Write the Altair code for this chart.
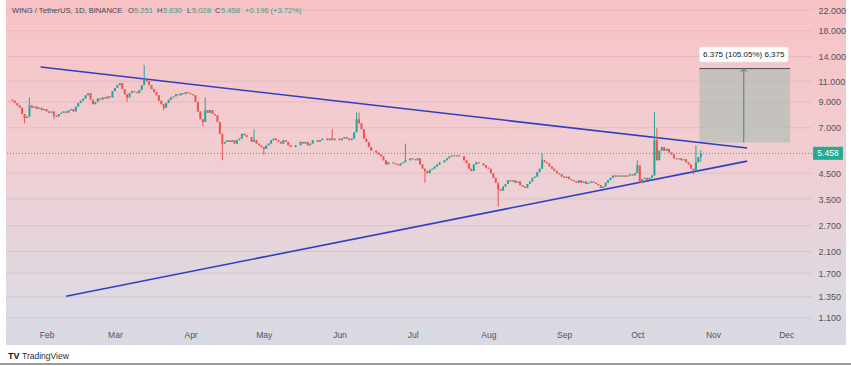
import altair as alt
import pandas as pd

# ---------------- data ----------------
start_date = "2023-01-18"
first_open = 9.2
closes = [
    9.1, 8.9, 8.7, 8.5, 8.0, 7.7, 7.8, 8.7, 8.5, 8.6, 8.4, 8.5, 8.3, 8.4, 8.2, 8.1, 8.2, 7.9, 7.8, 8.0,
    8.1, 8.2, 8.1, 8.3, 8.4, 8.2, 8.6, 8.9, 9.1, 9.3, 9.6, 9.8, 9.2, 8.8, 9.0, 9.3, 9.2, 9.4, 9.3, 9.5, 9.4,
    10.0, 10.3, 10.6, 10.8, 10.2, 9.7, 9.4, 9.8, 10.0, 9.9, 9.8, 10.1, 10.6, 11.2, 11.0, 10.6, 10.2, 9.9, 9.6, 9.1, 8.8, 8.5,
    8.9, 9.2, 9.4, 9.5, 9.7, 9.6, 9.8, 9.7, 9.9, 9.8, 9.7, 9.6, 9.0, 8.2, 7.6, 7.4, 8.3, 8.1, 8.3, 8.0, 7.9, 7.4, 6.6, 6.0,
    6.1, 6.2, 6.1, 6.2, 6.0, 6.2, 6.3, 6.6, 6.5, 6.4, 6.4, 6.1, 6.2, 6.0, 5.9, 5.8, 5.7, 5.9, 6.0, 6.2, 6.3, 6.2, 6.1,
    6.0, 6.2, 6.1, 5.9, 5.8, 5.8, 5.9, 5.9, 6.1, 6.0, 6.1, 5.9, 6.0, 6.2, 6.2, 6.1, 6.2, 6.3, 6.3, 6.2, 6.3, 6.2, 6.3, 6.3,
    6.2, 6.3, 6.4, 6.3, 6.2, 6.3,
    6.7, 7.6, 7.3, 6.9, 6.3, 6.1, 5.8, 5.6, 5.6, 5.5, 5.4, 5.3, 5.1, 4.9, 5.0, 5.0, 4.95, 4.9, 4.85, 4.95, 5.0, 5.1, 5.1,
    5.2, 5.15, 5.1, 5.2, 4.9, 4.7, 4.6, 4.5, 4.65, 4.7,
    4.8, 4.9, 5.0, 5.0, 5.1, 5.2, 5.3, 5.35, 5.3, 5.35, 5.3, 5.3, 5.1, 4.95, 4.7, 4.6, 4.9, 5.0, 4.95, 4.95, 4.85, 4.75,
    4.7, 4.5, 4.3, 4.1, 3.85, 3.8,
    3.95, 4.05, 4.2, 4.15, 4.2, 4.1, 4.15, 4.0, 3.95, 3.9, 4.05, 4.15, 4.3, 4.35, 4.55, 4.7, 5.1, 5.0, 4.95, 4.8, 4.7,
    4.6, 4.5, 4.45, 4.35, 4.3, 4.35, 4.25,
    4.2, 4.15, 4.1, 4.2, 4.1, 4.15, 4.05, 4.1, 4.15, 4.1, 4.05, 4.0, 3.9, 3.95, 4.1, 4.2, 4.3, 4.4, 4.35, 4.4, 4.35, 4.4,
    4.35, 4.4, 4.45, 4.4, 4.5, 4.85, 4.1, 4.25, 4.3, 4.2, 4.3, 4.4,
    6.2, 5.1, 5.6, 5.8, 5.6, 5.7, 5.5, 5.4, 5.2, 5.15, 5.2, 5.1, 5.15, 5.0, 4.9, 4.7, 4.6, 5.0, 5.251, 5.458,
]
# notable wicks (candle index -> price)
wick_highs = {7: 9.4, 54: 12.9, 79: 9.4, 99: 6.9, 131: 6.9, 141: 8.15, 142: 8.1, 161: 6.0,
              217: 5.47, 256: 5.1, 263: 8.15, 264: 7.0, 280: 5.9, 282: 5.63}
wick_lows = {5: 7.3, 17: 7.6, 47: 9.0, 62: 8.3, 78: 7.1, 86: 5.1, 103: 5.4, 169: 4.1,
             199: 3.25, 279: 4.45, 282: 5.028}

last_price = 5.458
y_ticks = [1.1, 1.35, 1.7, 2.1, 2.7, 3.5, 4.5, 7, 9, 11, 14, 18, 22]
month_ticks = [(2023, m) for m in range(2, 13)]

upper_line = {"date": ["2023-01-29T14:00:00Z", "2023-11-15T00:00:00Z"], "price": [12.63, 5.75]}
lower_line = {"date": ["2023-02-09T00:00:00Z", "2023-11-15T00:00:00Z"], "price": [1.36, 5.06]}
measure = {"start": "2023-10-26T10:00:00Z", "end": "2023-12-02T14:00:00Z", "mid": "2023-11-13T14:00:00Z",
           "low": 6.07, "high": 12.445, "label": "6.375 (105.05%) 6,375",
           "label_lo": 13.27, "label_hi": 15.35, "label_y": 14.25,
           "label_end": "2023-12-01T19:00:00Z"}

header_texts = ["WING / TetherUS, 1D, BINANCE", "O", "5.251", "H", "5.630", "L", "5.028", "C", "5.458",
                "+0.196 (+3.72%)"]

UP, DOWN = "#26a69a", "#ef5350"

# ---------------- build table ----------------
opens = [first_open] + closes[:-1]
rows = []
dates = pd.date_range(start_date, periods=len(closes)).strftime("%Y-%m-%d")
for i, (d, o, c) in enumerate(zip(dates, opens, closes)):
    hi = wick_highs.get(i, max(o, c))
    lo = wick_lows.get(i, min(o, c))
    rows.append({"date": d, "open": o, "close": c, "high": hi, "low": lo,
                 "dir": "up" if c >= o else "down"})
df = pd.DataFrame(rows)

FONT = "Liberation Sans"
xscale = alt.Scale(type="utc", domain=[
    alt.DateTime(year=2023, month=1, date=17, hours=10, minutes=30, utc=True),
    alt.DateTime(year=2023, month=12, date=9, hours=12, utc=True)])
yscale = alt.Scale(type="log", domain=[1.058, 24.25], nice=False, zero=False)

xaxis = alt.Axis(values=[alt.DateTime(year=y, month=m, date=1, utc=True) for y, m in month_ticks],
                 labelExpr="utcFormat(datum.value, '%b')", title=None, domain=False, ticks=False,
                 labelPadding=8, labelFontSize=8.5, labelColor="#50535e", labelFont=FONT, grid=False,
                 zindex=2)
yaxis = alt.Axis(values=y_ticks, format=".3f", orient="right", title=None, domain=False, ticks=False,
                 labelPadding=6, labelFontSize=9, labelColor="#50535e", labelFont=FONT,
                 grid=False, zindex=2)

color = alt.Color("dir:N", scale=alt.Scale(domain=["up", "down"], range=[UP, DOWN]), legend=None)

one = pd.DataFrame({"k": [0]})

bg = alt.Chart(one).mark_rect(
    color=alt.Gradient(gradient="linear", x1=0, x2=0, y1=0, y2=1,
                       stops=[alt.GradientStop(color="#f8c2c5", offset=0),
                              alt.GradientStop(color="#f1ced2", offset=0.45),
                              alt.GradientStop(color="#dcdae3", offset=0.9),
                              alt.GradientStop(color="#d8d9e2", offset=1)])
).encode(x=alt.value(0), x2=alt.value(840), y=alt.value(0), y2=alt.value(345))

grid = alt.Chart(pd.DataFrame({"p": y_ticks})).mark_rule(color="#c9a9b0", strokeWidth=1, opacity=0.4).encode(
    y=alt.Y("p:Q", scale=yscale, axis=yaxis))

base = alt.Chart(df)
wicks = base.mark_rule(strokeWidth=1).encode(
    x=alt.X("date:T", scale=xscale, axis=xaxis),
    y=alt.Y("low:Q", scale=yscale, axis=yaxis),
    y2="high:Q", color=color)
bodies = base.mark_bar(size=2).encode(
    x=alt.X("date:T", scale=xscale, axis=xaxis),
    y=alt.Y("open:Q", scale=yscale, axis=yaxis),
    y2="close:Q", color=color)

price_line = alt.Chart(pd.DataFrame({"p": [last_price]})).mark_rule(
    strokeDash=[1, 2], color="#7d8190", strokeWidth=1).encode(y=alt.Y("p:Q", scale=yscale, axis=yaxis))

def trend(d):
    return alt.Chart(pd.DataFrame(d)).mark_line(color="#2f3fc0", strokeWidth=1.6).encode(
        x=alt.X("date:T", scale=xscale, axis=xaxis), y=alt.Y("price:Q", scale=yscale, axis=yaxis))

mdf = pd.DataFrame([measure])
mbox = alt.Chart(mdf).mark_rect(color="#a6bcb2", opacity=0.6).encode(
    x=alt.X("start:T", scale=xscale, axis=xaxis), x2="end:T",
    y=alt.Y("low:Q", scale=yscale, axis=yaxis), y2="high:Q")
mtop = alt.Chart(mdf).mark_rule(color="#4a4d55", strokeWidth=1).encode(
    x=alt.X("start:T", scale=xscale, axis=xaxis), x2="end:T",
    y=alt.Y("high:Q", scale=yscale, axis=yaxis))
marrow = alt.Chart(mdf).mark_rule(color="#5e8c80", strokeWidth=1.2).encode(
    x=alt.X("mid:T", scale=xscale, axis=xaxis),
    y=alt.Y("low:Q", scale=yscale, axis=yaxis), y2="high:Q")
mhead = alt.Chart(mdf).mark_point(shape="M-1,1L0,0L1,1", size=36, filled=False,
                                  color="#5e8c80", strokeWidth=1.2, opacity=1).encode(
    x=alt.X("mid:T", scale=xscale, axis=xaxis), y=alt.Y("high:Q", scale=yscale, axis=yaxis))
mlabbox = alt.Chart(mdf).mark_rect(color="#ffffff", cornerRadius=2, stroke="#e4e4e8", strokeWidth=0.6).encode(
    x=alt.X("start:T", scale=xscale, axis=xaxis), x2="label_end:T",
    y=alt.Y("label_lo:Q", scale=yscale, axis=yaxis), y2="label_hi:Q")
mlabel = alt.Chart(mdf).mark_text(font=FONT, fontSize=8, color="#131722").encode(
    x=alt.X("mid:T", scale=xscale, axis=xaxis), y=alt.Y("label_y:Q", scale=yscale, axis=yaxis),
    text="label:N")

pdf = pd.DataFrame({"p": [last_price], "t": [f"{last_price:.3f}"]})
ptag = alt.Chart(pdf).mark_point(shape="M-2.3,-1H2.3V1H-2.3Z", size=169, filled=True,
                                 color="#22ab94", opacity=1).encode(
    x=alt.value(822), y=alt.Y("p:Q", scale=yscale, axis=yaxis))
ptext = alt.Chart(pdf).mark_text(font=FONT, fontSize=8.5, color="white").encode(
    x=alt.value(822), y=alt.Y("p:Q", scale=yscale, axis=yaxis), text="t:N")

# header legend (pixel positions of the annotation pieces)
hdr = pd.DataFrame({
    "t": header_texts,
    "x": [6, 122, 128, 151, 157, 181, 186, 209, 215, 239],
    "c": ["#434651", "#434651", "#3a9e8c", "#434651", "#3a9e8c", "#434651", "#3a9e8c", "#434651", "#3a9e8c",
          "#3a9e8c"],
})
header = alt.Chart(hdr).mark_text(font=FONT, fontSize=7.6, align="left", baseline="middle").encode(
    x=alt.X("x:Q", scale=None), y=alt.value(11), text="t:N", color=alt.Color("c:N", scale=None))

foot = pd.DataFrame({"t": ["TV", "TradingView"], "x": [2, 16]})
footer_b = alt.Chart(foot.iloc[[0]]).mark_text(font=FONT, fontSize=9, fontWeight="bold", align="left",
                                                color="#131722").encode(
    x=alt.X("x:Q", scale=None), y=alt.value(356), text="t:N")
footer_t = alt.Chart(foot.iloc[[1]]).mark_text(font=FONT, fontSize=8.5, align="left",
                                                color="#2a2e39").encode(
    x=alt.X("x:Q", scale=None), y=alt.value(356), text="t:N")
bottom_line = alt.Chart(one).mark_rule(color="#9a9a9e", strokeWidth=2).encode(
    x=alt.value(-6), x2=alt.value(845), y=alt.value(364))

chart = alt.layer(
    bg, grid, price_line, mbox, mtop, marrow, mhead, trend(upper_line), trend(lower_line),
    wicks, bodies, mlabbox, mlabel, ptag, ptext, header, footer_b, footer_t, bottom_line
).resolve_scale(color="independent").properties(
    width=806, height=322,
    autosize=alt.AutoSizeParams(type="none"),
    padding={"left": 6, "top": 0, "right": 39, "bottom": 44},
).configure_view(stroke=None)

chart.save("out.html", embed_options={"renderer": "svg", "actions": False})
